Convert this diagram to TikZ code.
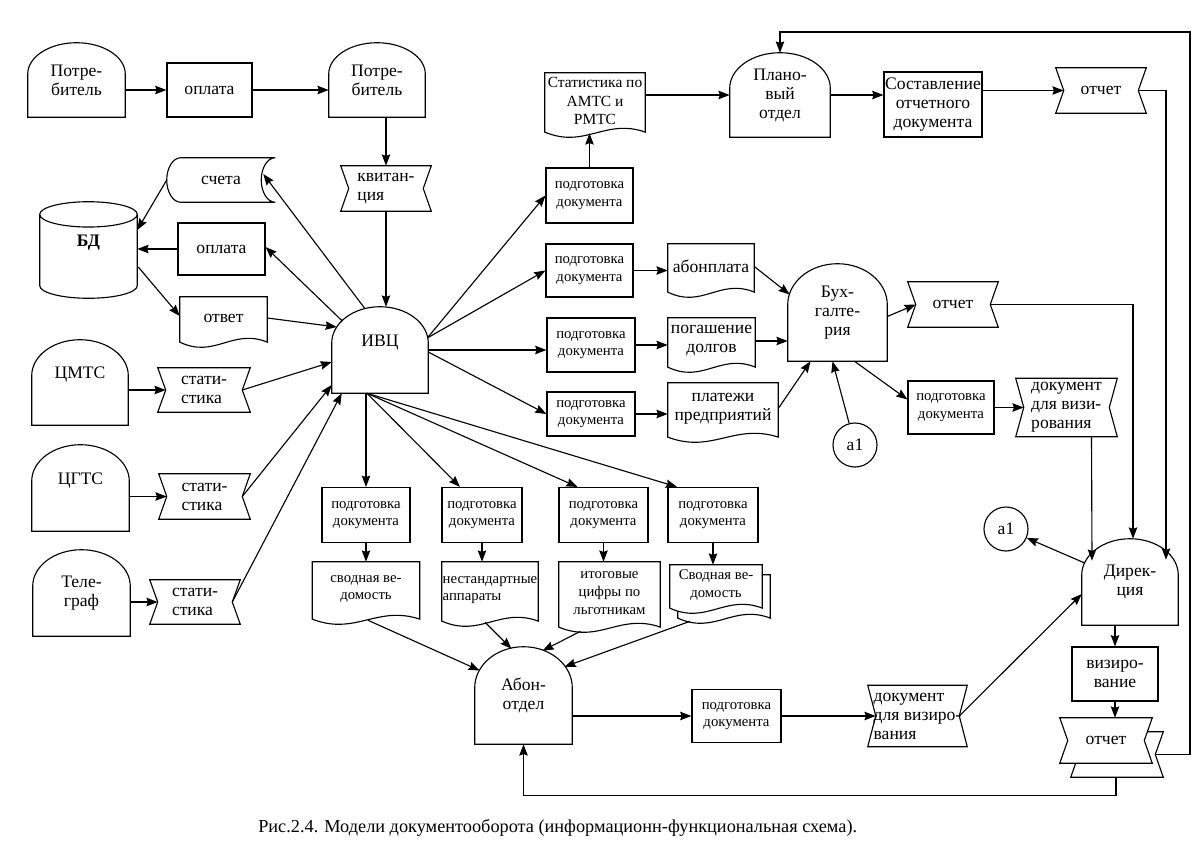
\documentclass[tikz,border=0pt]{standalone}
\usepackage{fontspec}
\setmainfont{Liberation Serif}
\usetikzlibrary{calc,arrows.meta,backgrounds}

\tikzset{
    txt/.style       = {align=center, inner sep=0pt, font=\fontsize{12.5}{13.5}\selectfont},
    small/.style     = {font=\fontsize{10.5}{12.6}\selectfont},
    dims/.style 2 args = {minimum width=#1*0.025cm, minimum height=#2*0.025cm},
    proc/.style      = {txt, draw, line width=0.8pt},
    shapeline/.style = {draw, fill=white, line width=0.8pt},
    link/.style      = {circle, draw, line width=0.8pt, minimum size=1.1cm, inner sep=0pt,
                        font=\fontsize{12.5}{13.5}\selectfont},
    arr/.style       = {-{Stealth[length=8pt,width=6pt,inset=1pt]}, line width=0.8pt}
}

% outlines drawn round the (invisible) text nodes
\newcommand\termoutline[1]{%
    \draw[shapeline] let \p1=(#1.south west), \p2=(#1.north east) in
        (\x1,\y1) -- (\x1,{\y1+0.58*(\y2-\y1)})
        arc[start angle=180, end angle=0, x radius={0.5*(\x2-\x1)}, y radius={0.42*(\y2-\y1)}]
        -- (\x2,\y1) -- cycle;}
% the wavy bottom hangs 6pt below the text box
\newcommand\docoutline[2][0,0]{%
    \draw[shapeline] let \p1=($(#2.south west)+(#1)$), \p2=($(#2.north east)+(#1)$) in
        (\x1,{\y1-2pt}) -- (\x1,\y2) -- (\x2,\y2) -- (\x2,{\y1-2pt})
        .. controls ({\x1+0.6*(\x2-\x1)},{\y1+8pt}) and ({\x1+0.4*(\x2-\x1)},{\y1-14pt}) .. (\x1,{\y1-2pt})
        -- cycle;}
\newcommand\notchoutline[2][0,0]{%
    \draw[shapeline] let \p1=($(#2.south west)+(#1)$), \p2=($(#2.north east)+(#1)$) in
        (\x1,\y2) -- (\x2,\y2) -- ({\x2-5.7pt},{0.5*(\y1+\y2)}) -- (\x2,\y1)
        -- (\x1,\y1) -- ({\x1+5.7pt},{0.5*(\y1+\y2)}) -- cycle;}
\newcommand\storeoutline[1]{%
    \draw[shapeline] let \p1=(#1.south west), \p2=(#1.north east) in
        (\x2,\y2) -- ({\x1+10pt},\y2)
        arc[start angle=90, end angle=270, x radius=10pt, y radius={0.5*(\y2-\y1)}]
        -- (\x2,\y1)
        arc[start angle=270, end angle=90, x radius=10pt, y radius={0.5*(\y2-\y1)}] -- cycle;}
\newcommand\cyloutline[1]{%
    \draw[shapeline] let \p1=(#1.south west), \p2=(#1.north east) in
        (\x1,{\y2-9pt}) -- (\x1,{\y1+9pt})
        arc[start angle=180, end angle=360, x radius={0.5*(\x2-\x1)}, y radius=9pt]
        -- (\x2,{\y2-9pt})
        arc[start angle=0, end angle=180, x radius={0.5*(\x2-\x1)}, y radius=9pt] -- cycle
        (\x1,{\y2-9pt}) arc[start angle=180, end angle=360, x radius={0.5*(\x2-\x1)}, y radius=9pt];}

\begin{document}
\begin{tikzpicture}[x=0.025cm, y=-0.025cm]
        \useasboundingbox (0,0) rectangle (1197,856);
        % ---------------------------------------------------------------------------
        % Draw nodes
        % ---------------------------------------------------------------------------
        \node[txt, dims={97}{74}]               (Cons1)    at (76.5,80)    {Потре-\\битель};
        \node[proc, dims={85}{54}]              (PayTop)   at (209.5,90)   {оплата};
        \node[txt, dims={96}{74}]               (Cons2)    at (377,80)     {Потре-\\битель};
        \node[txt, dims={90}{45}, align=left]   (Receipt)  at (386,188.5)  {квитан-\\ция};

        \node[txt, dims={108}{44}]              (Bills)    at (221,180)    {счета};
        \node[txt, dims={97}{96}, font=\fontsize{12.5}{13.5}\selectfont\bfseries]
                                                (DB)       at (88.5,250)   {БД\\\mbox{}};
        \node[proc, dims={87}{52}]              (PayDB)    at (221.5,249)  {оплата};
        \node[txt, dims={87}{42}]               (Answer)   at (223.5,318)  {ответ};

        \node[txt, dims={96}{86}]               (IVC)      at (380,350)    {ИВЦ\\\mbox{}};
        \node[txt, dims={96}{85}]               (CMTS)     at (80,382.5)   {ЦМТС\\\mbox{}};
        \node[txt, dims={92}{44}, align=left]   (Stat1)    at (204,390)    {стати-\\стика};
        \node[txt, dims={97}{86}]               (CGTS)     at (80.5,488)   {ЦГТС\\\mbox{}};
        \node[txt, dims={91}{45}, align=left]   (Stat2)    at (204.5,496.5) {стати-\\стика};
        \node[txt, dims={97}{86}]               (Tel)      at (81.5,593)   {Теле-\\граф};
        \node[txt, dims={90}{44}, align=left]   (Stat3)    at (195,602)    {стати-\\стика};

        \node[proc, small, dims={88}{55}]       (PrepA)    at (366,515)    {подготовка\\документа};
        \node[proc, small, dims={80}{55}]       (PrepB)    at (482,515)    {подготовка\\документа};
        \node[proc, small, dims={89}{55}]       (PrepC)    at (603.5,515)  {подготовка\\документа};
        \node[proc, small, dims={90}{55}]       (PrepD)    at (713,515)    {подготовка\\документа};
        \node[txt, small, dims={107}{54}]       (SumA)     at (366,589)    {сводная ве-\\домость};
        \node[txt, small, dims={96}{56}, align=left] (NonStd) at (490,590) {нестандартные\\аппараты};
        \node[txt, small, dims={101}{62}]       (Totals)   at (609.5,593)  {итоговые\\цифры по\\льготникам};
        \node[txt, small, dims={92}{40}]        (SumB)     at (716,585)    {Сводная ве-\\домость};

        \node[txt, dims={97}{97}]               (Abon)     at (523.5,695.5) {Абон-\\отдел};
        \node[proc, small, dims={89}{53}]       (PrepAbon) at (736.5,716)  {подготовка\\документа};
        \node[txt, dims={99}{61}, align=left]   (VisaDocA) at (917.5,716)  {документ\\для визиро-\\вания};

        \node[txt, dims={100}{56}, font=\fontsize{11}{13}\selectfont]
                                                (StatAMTS) at (595,101)    {Статистика по\\АМТС и\\РМТС};
        \node[proc, small, dims={87}{55}]       (PrepStat) at (589.5,195.5) {подготовка\\документа};
        \node[txt, dims={100}{84}]              (Plan)     at (780,95)     {Плано-\\вый\\отдел};
        \node[proc, dims={98}{65}]              (Compose)  at (933,104.5)  {Составление\\отчетного\\документа};
        \node[txt, dims={90}{45}]               (ReportPlan) at (1101,90.5) {отчет};

        \node[proc, small, dims={87}{53}]       (PrepFee)  at (589.5,270.5) {подготовка\\документа};
        \node[txt, dims={86}{45}]               (Fee)      at (711,266.5)  {абонплата};
        \node[proc, small, dims={88}{54}]       (PrepDebt) at (591,345)    {подготовка\\документа};
        \node[txt, dims={87}{46}]               (Debt)     at (711.5,341)  {погашение\\долгов};
        \node[proc, small, dims={88}{44}]       (PrepFirm) at (591,414)    {подготовка\\документа};
        \node[txt, dims={110}{51}]              (Firm)     at (723,408.5)  {платежи\\предприятий};

        \node[txt, dims={99}{97}]               (Acc)      at (837.5,312.5) {Бух-\\галте-\\рия};
        \node[txt, dims={90}{45}]               (ReportAcc) at (953,304.5) {отчет};
        \node[proc, small, dims={86}{53}]       (PrepAcc)  at (951,407.5)  {подготовка\\документа};
        \node[txt, dims={101}{58}, align=left]  (VisaDocB) at (1066.5,407.5) {документ\\для визи-\\рования};
        \node[link]                             (LinkA)    at (855,445)    {a1};

        \node[link]                             (LinkB)    at (1006,529)   {a1};
        \node[txt, dims={96}{86}]               (Dir)      at (1130,582)   {Дирек-\\ция};
        \node[proc, dims={86}{54}]              (Visa)     at (1115,674)   {визиро-\\вание};
        \node[txt, dims={92}{45}]               (ReportDir) at (1106,740.5) {отчет};

        \coordinate (LoopTop) at (1190,32);

        \node[txt, anchor=west, font=\fontsize{13}{14}\selectfont] (Caption) at (258,828)
            {Рис.2.4. Модели документооборота (информационн-функциональная схема).};

        % ---------------------------------------------------------------------------
        % Draw outlines (behind the texts)
        % ---------------------------------------------------------------------------
        \begin{pgfonlayer}{background}
            \fill[white] (0,0) rectangle (1197,856);
            \foreach \nd in {Cons1,Cons2,IVC,CMTS,CGTS,Tel,Abon,Plan,Acc,Dir} {\termoutline{\nd}}
            \foreach \nd in {Answer,SumA,NonStd,Totals,StatAMTS,Fee,Debt,Firm} {\docoutline{\nd}}
            \docoutline[8,10]{SumB}
            \docoutline{SumB}
            \foreach \nd in {Receipt,Stat1,Stat2,Stat3,VisaDocA,ReportPlan,ReportAcc,VisaDocB} {\notchoutline{\nd}}
            \notchoutline[11,14]{ReportDir}
            \notchoutline{ReportDir}
            \storeoutline{Bills}
            \cyloutline{DB}
        \end{pgfonlayer}

        % ---------------------------------------------------------------------------
        % Draw arrows
        % ---------------------------------------------------------------------------
        \draw[arr] (PayTop.west -| Cons1.east)  -- (PayTop.west);                      % payment
        \draw[arr] (PayTop.east)                -- (PayTop.east -| Cons2.west);
        \draw[arr] (Receipt.north |- Cons2.south) -- (Receipt.north);                  % receipt
        \draw[arr] (Receipt.south)              -- (Receipt.south |- IVC.north);

        \draw[arr] (Bills.west)                 -- ($(DB.east)+(0,-20)$);               % data base
        \draw[arr] (PayDB.west)                 -- (PayDB.west -| DB.east);
        \draw[arr] ($(DB.east)+(1,17)$)         -- ($(Answer.west)+(0,-2)$);
        \draw[arr] ($(IVC.north)+(-15,2)$)      -- ($(Bills.east)+(-12,-6)$);
        \draw[arr] ($(IVC.north)+(-38,14)$)     -- ($(PayDB.east)+(0,-2)$);
        \draw[arr] (Answer.east)                -- ($(IVC.west)+(5,-23)$);

        \draw[arr] (Stat1.west -| CMTS.east)    -- ($(Stat1.west)+(8,0)$);              % statistics
        \draw[arr] ($(Stat1.east)+(-8,0)$)      -- ($(IVC.west)+(0,12)$);
        \draw[arr] (Stat2.west -| CGTS.east)    -- ($(Stat2.west)+(8,0)$);
        \draw[arr] ($(Stat2.east)+(-8,0)$)      -- ($(IVC.west)+(0,35)$);
        \draw[arr] (Stat3.west -| Tel.east)     -- ($(Stat3.west)+(8,0)$);
        \draw[arr] ($(Stat3.east)+(-8,0)$)      -- ($(IVC.south west)+(10,0)$);

        \draw[arr] (IVC.south -| PrepA.north)   -- (PrepA.north);                      % lower row
        \foreach \t/\dx in {PrepB/-22, PrepC/-26, PrepD/-36}
            \draw[arr] ($(IVC.south)+(-13,0)$)  -- ($(\t.north)+(\dx,0)$);
        \draw[arr] (PrepA.south)                -- (PrepA.south |- SumA.north);
        \draw[arr] (PrepB.south)                -- (PrepB.south |- NonStd.north);
        \draw[arr] (PrepC.south)                -- (PrepC.south |- Totals.north);
        \draw[arr] (PrepD.south)                -- (PrepD.south |- SumB.north);
        \draw[arr] ($(SumA.south)+(2,4)$)       -- ($(Abon.west)+(5,-25)$);
        \draw[arr] ($(NonStd.south)+(-5,4)$)    -- ($(Abon.north)+(-12,2)$);
        \draw[arr] ($(Totals.south)+(-29,7)$)   -- ($(Abon.north)+(19,4)$);
        \draw[arr] ($(SumB.south)+(-26,16)$)    -- ($(Abon.north)+(41,20)$);
        \draw[arr] (PrepAbon.west -| Abon.east) -- (PrepAbon.west);
        \draw[arr] (PrepAbon.east)              -- ($(VisaDocA.west)+(8,0)$);
        \draw[arr] ($(VisaDocA.east)+(-8,0)$)   -- ($(Dir.west)+(0,12)$);

        \draw[arr] (PrepStat.north)             -- ($(PrepStat.north |- StatAMTS.south)+(0,4)$); % planning
        \draw[arr] (StatAMTS.east |- Plan.west) -- (Plan.west);
        \draw[arr] (Plan.east)                  -- (Plan.east -| Compose.west);
        \draw[arr] (Compose.east |- ReportPlan.west) -- ($(ReportPlan.west)+(8,0)$);

        \draw[arr] ($(IVC.east)+(-1,-12)$)      -- (PrepStat.west);                    % accounting
        \draw[arr] ($(IVC.east)+(-1,-12)$)      -- (PrepFee.west);
        \draw[arr] (IVC.east)                   -- (IVC.east -| PrepDebt.west);
        \draw[arr] ($(IVC.east)+(0,2)$)         -- (PrepFirm.west);
        \draw[arr] (PrepFee.east)               -- (PrepFee.east -| Fee.west);
        \draw[arr] (PrepDebt.east)              -- (PrepDebt.east -| Debt.west);
        \draw[arr] (PrepFirm.east)              -- (PrepFirm.east -| Firm.west);
        \draw[arr] (Fee.east)                   -- ($(Acc.west)+(2,-18)$);
        \draw[arr] (Debt.east)                  -- (Debt.east -| Acc.west);
        \draw[arr] (Firm.east)                  -- ($(Acc.south)+(-27,0)$);
        \draw[arr] (LinkA)                      -- ($(Acc.south)+(-5,0)$);
        \draw[arr] ($(Acc.east)+(0,4)$)         -- ($(ReportAcc.west)+(8,0)$);
        \draw[arr] ($(Acc.south)+(17,0)$)       -- ($(PrepAcc.west)+(0,-8)$);
        \draw[arr] (PrepAcc.east)               -- ($(VisaDocB.west)+(8,0)$);

        \draw[arr] ($(VisaDocB.south)+(25,0)$)  -- ($(Dir.north)+(-38,22)$);          % management
        \draw[arr] ($(ReportAcc.east)+(-8,0)$)  -| ($(Dir.north)+(3,0)$);
        \draw[arr] ($(ReportPlan.east)+(-8,0)$) -| ($(Dir.north)+(36,21)$);
        \draw[arr] ($(Dir.west)+(3,-19)$)       -- (LinkB);
        \draw[arr] (Visa.north |- Dir.south)    -- (Visa.north);
        \draw[arr] (Visa.south)                 -- (Visa.south |- ReportDir.north);
        \draw[arr] ($(ReportDir.south)+(10,14)$) -- ++(0,18) -| (Abon.south);
        \draw[arr] ($(ReportDir.east)+(3,14)$)  -| (LoopTop) -| (Plan.north);

    \end{tikzpicture}
\end{document}
